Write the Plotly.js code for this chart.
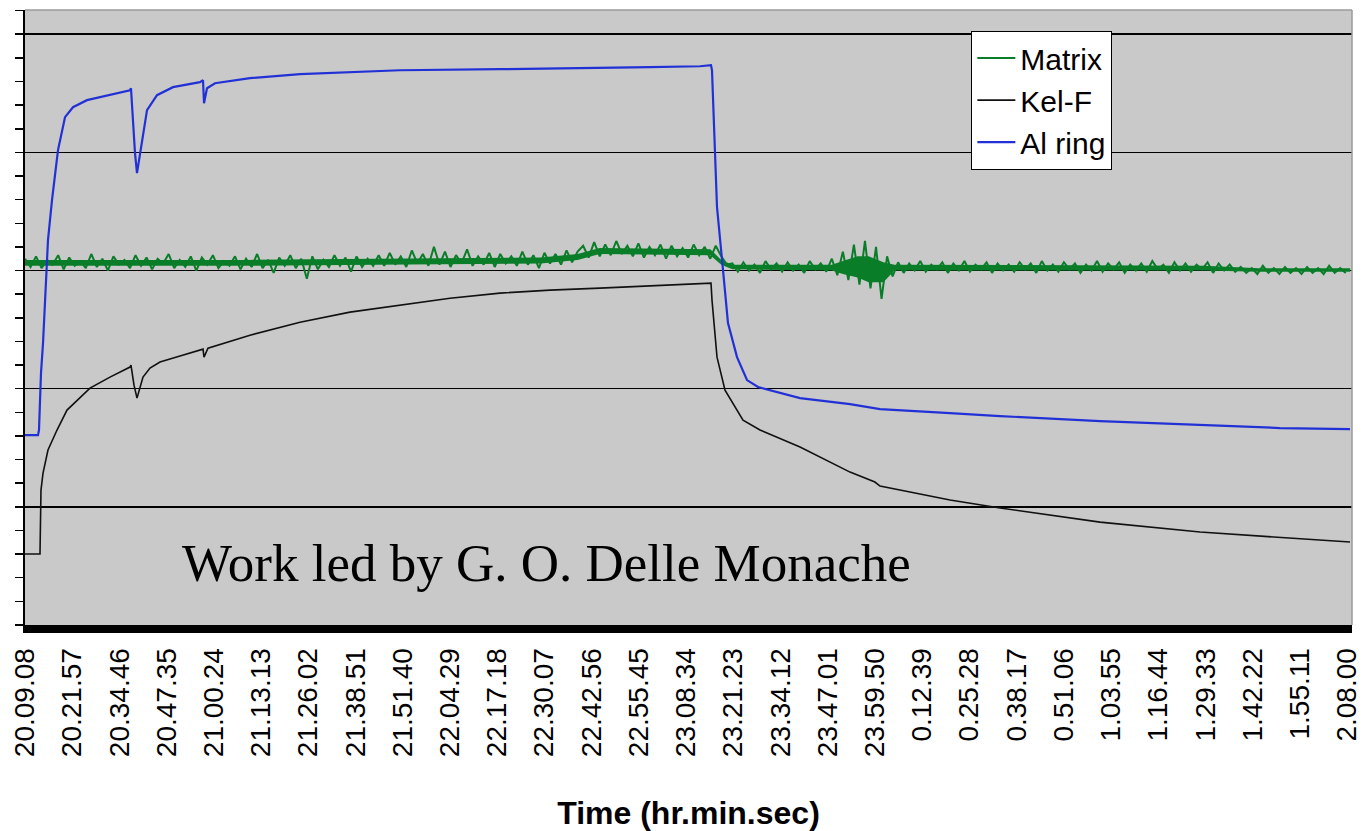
<!DOCTYPE html>
<html>
<head>
<meta charset="utf-8">
<script src="https://cdn.plot.ly/plotly-3.0.1.min.js"></script>
<style>html,body{margin:0;padding:0;background:#fff;}#chart{width:1370px;height:831px;}</style>
</head>
<body>
<div id="chart"></div>
<script>
// Elapsed minutes since 20.09.08 for each tick label (interval 12 min 49 s)
const tickLabels = ["20.09.08","20.21.57","20.34.46","20.47.35","21.00.24","21.13.13","21.26.02","21.38.51","21.51.40","22.04.29","22.17.18","22.30.07","22.42.56","22.55.45","23.08.34","23.21.23","23.34.12","23.47.01","23.59.50","0.12.39","0.25.28","0.38.17","0.51.06","1.03.55","1.16.44","1.29.33","1.42.22","1.55.11","2.08.00"];
const tickMinutes = [0,12.817,25.633,38.45,51.267,64.083,76.9,89.717,102.533,115.35,128.167,140.983,153.8,166.617,179.433,192.25,205.067,217.883,230.7,243.517,256.333,269.15,281.967,294.783,307.6,320.417,333.233,346.05,358.867];

// Al ring (blue)
const alTime = [0,3.53,3.80,4.34,4.89,5.43,6.24,7.33,8.96,10.86,13.03,16.83,20.36,28.50,28.77,29.86,30.40,31.76,33.12,35.83,40.17,47.50,48.32,48.59,49.40,51.57,61.07,74.65,88.22,101.79,128.94,156.08,169.65,183.22,186.21,186.48,187.30,187.84,189.47,190.82,193.27,195.98,198.97,210.37,223.94,232.08,251.09,264.66,291.80,318.95,340.66,359.66];
const alValue = [1.607,1.607,1.650,2.132,2.386,2.775,3.257,3.596,4.019,4.298,4.382,4.442,4.467,4.526,4.543,3.993,3.824,4.103,4.357,4.484,4.552,4.594,4.611,4.416,4.543,4.585,4.628,4.662,4.679,4.695,4.704,4.712,4.721,4.729,4.738,4.695,4.019,3.536,3.003,2.555,2.267,2.073,2.014,1.920,1.870,1.827,1.794,1.768,1.726,1.692,1.667,1.658];

// Kel-F (black)
const kelTime = [0,4.07,4.34,4.89,6.24,8.69,11.40,14.93,17.64,23.07,28.50,28.77,29.59,30.40,32.03,33.93,36.64,42.07,48.32,48.59,49.67,61.07,74.65,88.22,101.79,115.36,128.94,142.51,156.08,169.65,183.22,186.21,186.48,187.02,187.84,190.01,194.90,199.51,210.37,223.94,230.7,232.08,251.09,264.66,291.80,318.95,346.09,359.66];
const kelValue = [0.601,0.601,1.142,1.286,1.481,1.650,1.819,1.920,2.005,2.098,2.183,2.200,2.030,1.920,2.098,2.174,2.225,2.276,2.335,2.267,2.343,2.453,2.563,2.648,2.707,2.766,2.809,2.834,2.851,2.868,2.885,2.893,2.750,2.555,2.267,1.988,1.734,1.650,1.506,1.294,1.210,1.176,1.058,0.990,0.871,0.787,0.728,0.702];

// Matrix (green) – solid core of the noise band (upper / lower edges)
const matrixBandTime  = [0,60,95,140,150,156,186,189,192,219,222,226,229,233,236,320,335,359.7];
const matrixBandUpper = [3.09,3.09,3.10,3.11,3.14,3.19,3.18,3.09,3.05,3.05,3.08,3.12,3.12,3.07,3.05,3.04,3.02,3.02];
const matrixBandLower = [3.04,3.04,3.05,3.06,3.09,3.14,3.13,3.05,3.01,3.00,2.97,2.94,2.90,2.90,3.00,3.00,2.99,2.99];

// Matrix (green) – noisy signal read as alternating highs / lows
const matrixTime = [0,1.5,3,4.5,6,7.5,9,10.5,12,13.5,15,16.5,18,19.5,21,22.5,24,25.5,27,28.5,30,31.5,33,34.5,36,37.5,39,40.5,42,43.5,45,46.5,48,49.5,51,52.5,54,55.5,57,58.5,60,61.5,63,64.5,66,67.5,69,70.5,72,73.5,75,76.5,78,79.5,81,82.5,84,85.5,87,88.5,90,91.5,93,94.5,
96,97.5,99,100.5,102,103.5,105,106.5,108,109.5,111,112.5,114,115.5,117,118.5,120,121.5,123,124.5,126,127.5,129,130.5,132,133.5,135,136.5,138,139.5,141,142.5,144,145.5,147,148.5,150,
151.5,153,154.5,156,157.5,159,160.5,162,163.5,165,166.5,168,169.5,171,172.5,174,175.5,177,178.5,180,181.5,183,184.5,186,187.5,189,
190.5,
192,193.5,195,196.5,198,199.5,201,202.5,204,205.5,207,208.5,210,211.5,213,214.5,216,217.5,
219,220.5,222,223.5,225,226.5,228,229.5,231,232.5,234,235.5,
237,238.5,240,241.5,243,244.5,246,247.5,249,250.5,252,253.5,255,256.5,258,259.5,261,262.5,264,265.5,267,268.5,270,271.5,273,274.5,276,277.5,279,280.5,282,283.5,285,286.5,288,289.5,291,292.5,294,295.5,297,298.5,300,301.5,303,304.5,306,307.5,309,310.5,312,313.5,315,316.5,318,319.5,321,322.5,324,325.5,327,328.5,
330,331.5,333,334.5,336,337.5,339,340.5,342,343.5,345,346.5,348,349.5,351,352.5,354,355.5,357,358.5];
const matrixValue = [3.10,3.03,3.12,3.02,3.09,3.05,3.13,3.01,3.11,3.04,
3.08,3.02,3.14,3.03,3.10,3.00,3.12,3.05,3.09,3.02,
3.13,3.04,3.11,3.01,3.10,3.06,3.14,3.02,3.09,3.03,
3.12,3.00,3.11,3.05,3.13,3.02,3.08,3.04,3.12,3.01,
3.10,3.03,3.14,3.02,3.09,2.98,3.11,3.04,3.13,3.02,
3.10,2.93,3.12,3.01,3.09,3.03,3.13,3.04,3.11,2.99,
3.12,3.03,3.10,3.04,
3.13,3.04,3.15,3.05,3.12,3.03,3.17,3.06,3.14,3.04,
3.20,3.05,3.16,3.03,3.13,3.06,3.18,3.04,3.12,3.05,
3.15,3.03,3.14,3.06,3.12,3.04,3.16,3.05,3.13,3.02,
3.15,3.06,3.14,3.05,3.17,3.07,3.16,
3.21,3.11,3.24,3.12,3.22,3.13,3.25,3.14,3.21,3.12,
3.23,3.11,3.20,3.13,3.22,3.10,3.21,3.12,3.19,3.11,
3.22,3.13,3.20,3.10,3.21,3.12,
3.05,
3.06,2.99,3.07,3.00,3.05,2.98,3.08,3.01,3.06,2.99,
3.07,3.00,3.05,2.98,3.08,3.01,3.06,2.99,
3.10,2.96,3.16,2.92,3.22,2.88,3.25,2.85,3.20,2.76,3.12,2.95,
3.07,2.98,3.06,3.00,3.08,2.99,3.05,3.01,3.07,2.98,
3.06,3.00,3.08,2.99,3.05,3.01,3.07,2.98,3.06,3.00,
3.05,2.99,3.07,3.01,3.06,2.98,3.08,3.00,3.05,2.99,
3.07,3.01,3.06,2.98,3.05,3.00,3.08,2.99,3.06,3.01,
3.07,2.98,3.05,3.00,3.06,2.99,3.08,3.01,3.05,2.98,
3.07,3.00,3.06,2.99,3.05,3.01,3.07,2.98,3.06,3.00,
3.05,2.99,
3.03,2.98,3.02,2.97,3.04,2.98,3.02,2.97,3.03,2.98,
3.02,2.97,3.03,2.98,3.02,2.97,3.04,2.98,3.02,2.98];

const green = "#0a7d28";
const traces = [
  {x: matrixBandTime, y: matrixBandUpper, type: "scatter", mode: "lines",
   line: {color: green, width: 0}, showlegend: false, hoverinfo: "skip", legendgroup: "a"},
  {x: matrixBandTime, y: matrixBandLower, type: "scatter", mode: "lines", fill: "tonexty",
   fillcolor: green, line: {color: green, width: 0}, showlegend: false, hoverinfo: "skip", legendgroup: "a"},
  {x: matrixTime, y: matrixValue, name: "Matrix", type: "scatter", mode: "lines",
   line: {color: green, width: 2}, legendgroup: "a"},
  {x: kelTime, y: kelValue, name: "Kel-F", type: "scatter", mode: "lines",
   line: {color: "#111111", width: 1.6}, legendgroup: "b"},
  {x: alTime, y: alValue, name: "Al ring", type: "scatter", mode: "lines",
   line: {color: "#2231d6", width: 2.2}, legendgroup: "c"}
];

const layout = {
  width: 1370, height: 831,
  margin: {l: 25, r: 18, t: 10, b: 206, pad: 0},
  paper_bgcolor: "#ffffff",
  plot_bgcolor: "#c9c9c9",
  font: {family: "Liberation Sans, Arial, sans-serif", color: "#000"},
  showlegend: true,
  legend: {
    x: 0.713, y: 0.966, xanchor: "left", yanchor: "top",
    bgcolor: "#ffffff", bordercolor: "#000000", borderwidth: 1.2,
    font: {size: 30, family: "Liberation Sans, Arial, sans-serif", color: "#000"},
    traceorder: "grouped", tracegroupgap: 0, itemwidth: 38
  },
  xaxis: {
    range: [0, 360.2],
    tickmode: "array", tickvals: tickMinutes, ticktext: tickLabels,
    tickangle: -90,
    tickfont: {size: 28, family: "Liberation Sans, Arial, sans-serif", color: "#000"},
    ticklabelstandoff: 4,
    ticks: "", showgrid: false, zeroline: false,
    showline: true, linecolor: "#000", linewidth: 8,
    automargin: false,
    title: {text: "<b>Time (hr.min.sec)</b>", font: {size: 32, family: "Liberation Sans, Arial, sans-serif", color: "#000"}, standoff: 50}
  },
  yaxis: {
    range: [0, 5.205],
    dtick: 1, tick0: 0,
    showticklabels: false,
    ticks: "outside", ticklen: 8, tickwidth: 1.5, tickcolor: "#000",
    showgrid: true, gridcolor: "#000", gridwidth: 1.5,
    zeroline: false,
    showline: true, linecolor: "#000", linewidth: 2,
    minor: {dtick: 0.2, tick0: 0, ticks: "outside", ticklen: 8, tickwidth: 1.5, tickcolor: "#000", showgrid: false},
    automargin: false
  },
  shapes: [
    {type: "line", xref: "paper", yref: "paper", x0: 0, x1: 1, y0: 1, y1: 1, line: {color: "#9a9a9a", width: 1.5}},
    {type: "line", xref: "paper", yref: "paper", x0: 1, x1: 1, y0: 0, y1: 1, line: {color: "#9a9a9a", width: 1.5}}
  ],
  annotations: [
    {text: "Work led by G. O. Delle Monache", xref: "paper", yref: "paper",
     x: 0.1168, y: 0.1008, xanchor: "left", yanchor: "middle", showarrow: false,
     font: {family: "Liberation Serif, Times New Roman, serif", size: 53, color: "#000"}}
  ]
};

Plotly.newPlot("chart", traces, layout, {displayModeBar: false, staticPlot: true});
</script>
</body>
</html>
